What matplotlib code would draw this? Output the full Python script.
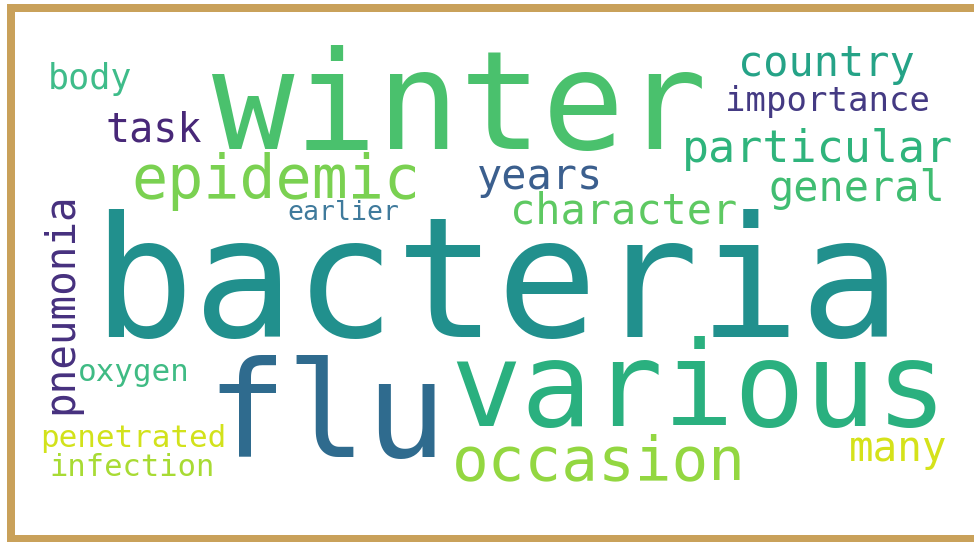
import matplotlib
matplotlib.use("Agg")
import matplotlib.pyplot as plt
from matplotlib.patches import Rectangle

# Word cloud data: words and their relative weights (font size in px)
words = ["bacteria", "winter", "flu", "various", "epidemic", "occasion",
         "pneumonia", "particular", "country", "years", "general", "character",
         "task", "importance", "many", "body", "oxygen", "penetrated",
         "infection", "earlier"]
weights = [168, 137, 133, 118, 60, 61,
           41, 45, 42, 42, 42, 42,
           40, 34, 41, 35, 31, 31,
           30.5, 26.5]
colors = ["#21908d", "#4ac16d", "#2f6b8e", "#2ab07f", "#7ad151", "#93d741",
          "#46307e", "#2fb47c", "#25a387", "#3b5f8e", "#40bd72", "#5ec962",
          "#482878", "#443a83", "#d5e21a", "#3fbc8a", "#3fbb84", "#d2e21b",
          "#a8db34", "#3f7a9c"]
rotations = [0, 0, 0, 0, 0, 0,
             90, 0, 0, 0, 0, 0,
             0, 0, 0, 0, 0, 0,
             0, 0]

# layout (pixel coordinates of ink centre x / baseline y)
cx = [497, 459, 327, 699, 276, 599,
      72, 818, 826, 540, 857, 624,
      154, 827, 898, 90, 134, 133,
      132, 343]
by = [337, 149, 457, 426, 198, 479,
      303, 162, 76, 189, 201, 223,
      141, 111, 461, 89, 381, 447,
      476, 220]

W, H = 974, 542
fig = plt.figure(figsize=(W / 100, H / 100), dpi=100)
ax = fig.add_axes([0, 0, 1, 1])
ax.set_xlim(0, W)
ax.set_ylim(H, 0)
ax.axis("off")

for w, s, c, r, x, y in zip(words, weights, colors, rotations, cx, by):
    ax.text(x, y, w, fontsize=s * 0.72, color=c, family="DejaVu Sans Mono",
            ha="center", va="baseline", rotation=r, rotation_mode="anchor")

border = "#C9A15A"
ax.add_patch(Rectangle((7, 4), W, 8, color=border, lw=0))
ax.add_patch(Rectangle((7, 4), 8, H, color=border, lw=0))
ax.add_patch(Rectangle((7, 535), W, 8, color=border, lw=0))

fig.savefig("out.png", dpi=100)
